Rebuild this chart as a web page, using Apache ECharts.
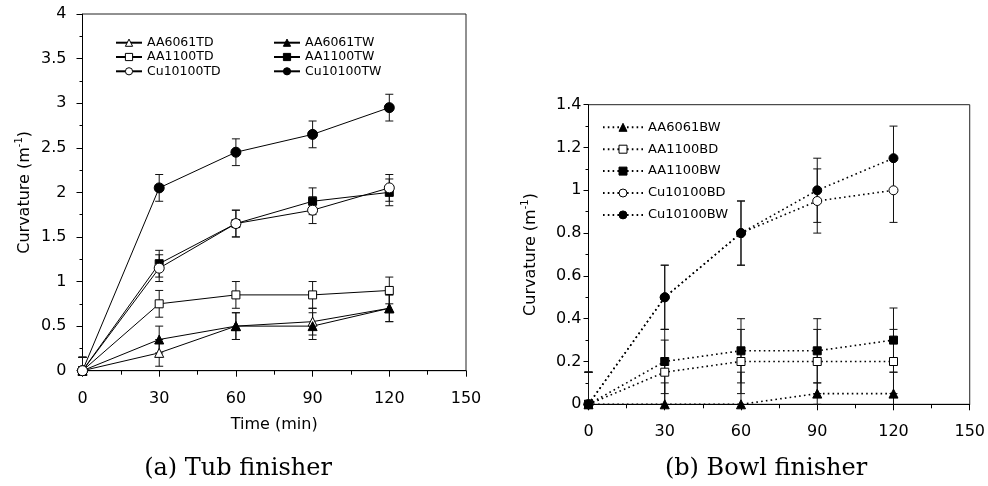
<!DOCTYPE html>
<html>
<head>
<meta charset="utf-8">
<script src="https://cdn.jsdelivr.net/npm/echarts@6/dist/echarts.min.js"></script>
<style>
html,body{margin:0;padding:0;background:#fff;}
#chart{width:988px;height:486px;}
</style>
</head>
<body>
<div id="chart"></div>
<script>
// ---- data ----
const times = [0, 30, 60, 90, 120];
const xTicks = [0, 30, 60, 90, 120, 150];

// (a) Tub finisher
const AA6061TD = [0, 0.2, 0.5, 0.55, 0.7];
const AA6061TW = [0, 0.35, 0.5, 0.5, 0.7];
const AA1100TD = [0, 0.75, 0.85, 0.85, 0.9];
const AA1100TW = [0, 1.2, 1.65, 1.9, 2.0];
const Cu10100TD = [0, 1.15, 1.65, 1.8, 2.05];
const Cu10100TW = [0, 2.05, 2.45, 2.65, 2.95];
const errAA6061TD = [0.15, 0.15, 0.15, 0.15, 0.15];
const errAA6061TW = [0.15, 0.15, 0.15, 0.15, 0.15];
const errAA1100TD = [0.15, 0.15, 0.15, 0.15, 0.15];
const errAA1100TW = [0.15, 0.15, 0.15, 0.15, 0.15];
const errCu10100TD = [0.15, 0.15, 0.15, 0.15, 0.15];
const errCu10100TW = [0.15, 0.15, 0.15, 0.15, 0.15];

// (b) Bowl finisher
const AA6061BW = [0, 0, 0, 0.05, 0.05];
const AA1100BD = [0, 0.15, 0.2, 0.2, 0.2];
const AA1100BW = [0, 0.2, 0.25, 0.25, 0.3];
const Cu10100BD = [0, 0.5, 0.8, 0.95, 1.0];
const Cu10100BW = [0, 0.5, 0.8, 1.0, 1.15];
const errAA6061BW = [0.15, 0.1, 0.15, 0.05, 0.1];
const errAA1100BD = [0.15, 0.15, 0.15, 0.15, 0.15];
const errAA1100BW = [0.15, 0.15, 0.15, 0.15, 0.15];
const errCu10100BD = [0.15, 0.15, 0.15, 0.15, 0.15];
const errCu10100BW = [0.15, 0.15, 0.15, 0.15, 0.15];

const captionA = '(a) Tub finisher';
const captionB = '(b) Bowl finisher';

// ---- build ----
const FONT = 'DejaVu Sans';
const BLACK = '#000';

function pts(vals) { return times.map((t, i) => [t, vals[i]]); }
function errPts(vals, errs) { return times.map((t, i) => [t, vals[i] - errs[i], vals[i] + errs[i]]); }

function errRender(params, api) {
  const x = api.value(0), lo = api.value(1), hi = api.value(2);
  const pLo = api.coord([x, lo]);
  const pHi = api.coord([x, hi]);
  const cs = params.coordSys;
  const yb = cs.y + cs.height;
  const yt = cs.y;
  const hw = 4;
  const y1 = Math.min(pLo[1], yb);
  const y2 = Math.max(pHi[1], yt);
  const st = { stroke: '#111', lineWidth: 1 };
  const ch = [{ type: 'line', shape: { x1: pLo[0], y1: y1, x2: pLo[0], y2: y2 }, style: st }];
  if (pHi[1] >= yt) ch.push({ type: 'line', shape: { x1: pHi[0] - hw, y1: pHi[1], x2: pHi[0] + hw, y2: pHi[1] }, style: st });
  if (pLo[1] <= yb) ch.push({ type: 'line', shape: { x1: pLo[0] - hw, y1: pLo[1], x2: pLo[0] + hw, y2: pLo[1] }, style: st });
  return { type: 'group', children: ch };
}

function lineSeries(name, vals, gi, symbol, filled, size, dotted) {
  return {
    name: name, type: 'line', xAxisIndex: gi, yAxisIndex: gi,
    data: pts(vals), symbol: symbol, symbolSize: size, showSymbol: true,
    itemStyle: { color: filled ? BLACK : '#fff', borderColor: BLACK, borderWidth: 1 },
    lineStyle: dotted ? { color: BLACK, width: 1.6, type: [1.6, 3.2] } : { color: BLACK, width: 1 },
    z: 3, animation: false
  };
}
function errSeries(vals, errs, gi) {
  return {
    type: 'custom', xAxisIndex: gi, yAxisIndex: gi, data: errPts(vals, errs),
    renderItem: errRender, z: 2, animation: false, silent: true,
    encode: { x: 0, y: [1, 2] }
  };
}

const tubSeries = [
  ['AA6061TD', AA6061TD, errAA6061TD, 'triangle', false, 9],
  ['AA6061TW', AA6061TW, errAA6061TW, 'triangle', true, 9],
  ['AA1100TD', AA1100TD, errAA1100TD, 'rect', false, 8],
  ['AA1100TW', AA1100TW, errAA1100TW, 'rect', true, 8],
  ['Cu10100TW', Cu10100TW, errCu10100TW, 'circle', true, 10],
  ['Cu10100TD', Cu10100TD, errCu10100TD, 'circle', false, 10]
];
const bowlSeries = [
  ['AA6061BW', AA6061BW, errAA6061BW, 'triangle', true, 9],
  ['AA1100BD', AA1100BD, errAA1100BD, 'rect', false, 8],
  ['AA1100BW', AA1100BW, errAA1100BW, 'rect', true, 8],
  ['Cu10100BD', Cu10100BD, errCu10100BD, 'circle', false, 9],
  ['Cu10100BW', Cu10100BW, errCu10100BW, 'circle', true, 9]
];

const series = [];
tubSeries.forEach(s => series.push(errSeries(s[1], s[2], 0)));
bowlSeries.forEach(s => series.push(errSeries(s[1], s[2], 1)));
tubSeries.forEach(s => series.push(lineSeries(s[0], s[1], 0, s[3], s[4], s[5], false)));
bowlSeries.forEach(s => series.push(lineSeries(s[0], s[1], 1, s[3], s[4], s[5], true)));

function xAxisCfg(gi, name, margin) {
  return {
    gridIndex: gi, type: 'value', min: xTicks[0], max: xTicks[xTicks.length - 1], interval: xTicks[1] - xTicks[0],
    axisLine: { show: true, onZero: false, lineStyle: { color: BLACK, width: 1 } },
    axisTick: { show: true, inside: false, length: 6, lineStyle: { color: BLACK, width: 1 } },
    minorTick: { show: true, splitNumber: 2, length: 4, lineStyle: { color: BLACK, width: 1 } },
    splitLine: { show: false },
    axisLabel: { color: BLACK, fontFamily: FONT, fontSize: 16, margin: margin },
    name: name, nameLocation: 'middle', nameGap: 46,
    nameTextStyle: { color: BLACK, fontFamily: FONT, fontSize: 16 }
  };
}
function yAxisCfg(gi, max, interval, margin, tickLen) {
  return {
    gridIndex: gi, type: 'value', min: 0, max: max, interval: interval,
    axisLine: { show: true, onZero: false, lineStyle: { color: BLACK, width: 1 } },
    axisTick: { show: true, inside: false, length: tickLen, lineStyle: { color: BLACK, width: 1 } },
    minorTick: { show: true, splitNumber: 2, length: 3, lineStyle: { color: BLACK, width: 1 } },
    splitLine: { show: false },
    axisLabel: { color: BLACK, fontFamily: FONT, fontSize: 16, margin: margin },
    name: '{a|Curvature (m}{s|-1}{a|)}', nameLocation: 'middle', nameGap: 50,
    nameTextStyle: {
      color: BLACK,
      rich: {
        a: { fontFamily: FONT, fontSize: 16, color: BLACK, lineHeight: 18, verticalAlign: 'bottom' },
        s: { fontFamily: FONT, fontSize: 10, color: BLACK, lineHeight: 18, verticalAlign: 'top' }
      }
    }
  };
}

const legendBase = {
  orient: 'vertical', selectedMode: false, padding: 0,
  textStyle: { fontFamily: FONT, fontSize: 12.5, color: BLACK, lineHeight: 14 },
  itemStyle: { borderWidth: 1 }
};

const option = {
  animation: false,
  backgroundColor: '#fff',
  grid: [
    { left: 82.5, top: 14, right: 522, bottom: 115.3, show: true, borderColor: '#222', borderWidth: 1, backgroundColor: 'transparent' },
    { left: 588.5, top: 104.7, right: 17, bottom: 81.7, show: true, borderColor: '#222', borderWidth: 1, backgroundColor: 'transparent' }
  ],
  xAxis: [xAxisCfg(0, 'Time (min)', 20), xAxisCfg(1, '', 20)],
  yAxis: [yAxisCfg(0, 4, 0.5, 16, 6), yAxisCfg(1, 1.4, 0.2, 7, 5)],
  legend: [
    Object.assign({}, legendBase, { data: ['AA6061TD', 'AA1100TD', 'Cu10100TD'], left: 115, top: 35.7, itemWidth: 26, itemHeight: 9, itemGap: 0.3 }),
    Object.assign({}, legendBase, { data: ['AA6061TW', 'AA1100TW', 'Cu10100TW'], left: 273, top: 35.7, itemWidth: 26, itemHeight: 9, itemGap: 0.3 }),
    Object.assign({}, legendBase, { data: ['AA6061BW', 'AA1100BD', 'AA1100BW', 'Cu10100BD', 'Cu10100BW'], left: 602, top: 120.3, itemWidth: 40, itemHeight: 10, itemGap: 7.9,
      textStyle: { fontFamily: FONT, fontSize: 13, color: BLACK, lineHeight: 14 } })
  ],
  graphic: [
    { type: 'text', x: 238, y: 469, style: { text: captionA, fontFamily: 'DejaVu Serif', fontSize: 24, fill: BLACK, textAlign: 'center', textVerticalAlign: 'middle' } },
    { type: 'text', x: 766, y: 469, style: { text: captionB, fontFamily: 'DejaVu Serif', fontSize: 24, fill: BLACK, textAlign: 'center', textVerticalAlign: 'middle' } }
  ],
  series: series
};

const chart = echarts.init(document.getElementById('chart'), null, { renderer: 'canvas' });
chart.setOption(option);
</script>
</body>
</html>
